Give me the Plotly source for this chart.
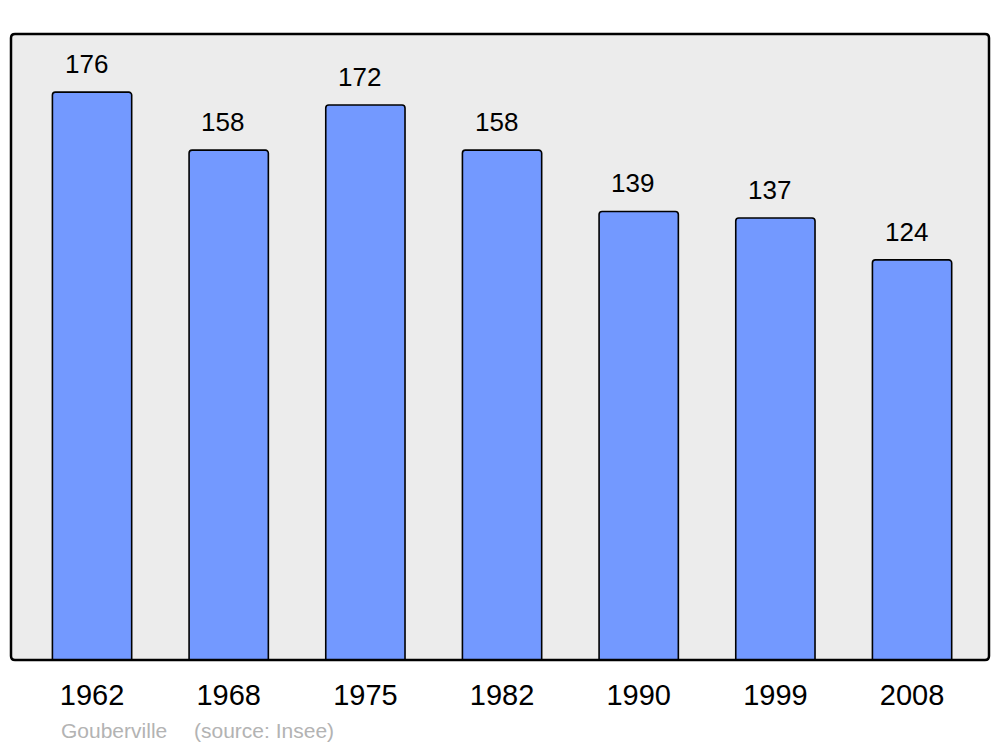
import plotly.graph_objects as go

years = ["1962", "1968", "1975", "1982", "1990", "1999", "2008"]
population = [176, 158, 172, 158, 139, 137, 124]
commune = "Gouberville"
source = "(source: Insee)"

# page body has an 8px margin, so the figure is drawn from (8, 8)
OFF = 8
W, H = 1000 - OFF, 747 - OFF
L, R, T, B = 11 - OFF, 11, 34 - OFF, 87
pw, ph = W - L - R, H - T - B

xs = list(range(len(years)))

fig = go.Figure()
fig.add_trace(go.Bar(
    x=xs, y=population, width=0.58,
    marker=dict(color="#7399ff", line=dict(color="#000000", width=1.6), cornerradius=3),
    hoverinfo="skip",
))

for i, v in zip(xs, population):
    fig.add_annotation(x=i, y=v, text=str(v), showarrow=False, yanchor="bottom",
                       yshift=11, xshift=-6,
                       font=dict(family="Liberation Sans, Arial", size=26, color="#000000"))

# rounded border of the plot area
rx, ry = 4 / pw, 4 / ph
path = (f"M {rx},0 L {1-rx},0 Q 1,0 1,{ry} L 1,{1-ry} Q 1,1 {1-rx},1 "
        f"L {rx},1 Q 0,1 0,{1-ry} L 0,{ry} Q 0,0 {rx},0 Z")
fig.add_shape(type="path", path=path, xref="paper", yref="paper",
              line=dict(color="#000000", width=2.5), layer="above")

ysrc = (660 - 730) / ph
fig.add_annotation(x=(59 - 11) / pw, y=ysrc, xref="paper", yref="paper",
                   text=commune, showarrow=False, xanchor="left", yanchor="middle",
                   font=dict(family="Liberation Sans, Arial", size=21, color="#b3b3b3"))
fig.add_annotation(x=(192 - 11) / pw, y=ysrc, xref="paper", yref="paper",
                   text=source, showarrow=False, xanchor="left", yanchor="middle",
                   font=dict(family="Liberation Sans, Arial", size=21, color="#b3b3b3"))

fig.update_layout(
    width=W, height=H,
    margin=dict(l=L, r=R, t=T, b=B),
    paper_bgcolor="#ffffff", plot_bgcolor="#ececec",
    showlegend=False,
    xaxis=dict(range=[-0.593, 6.563], tickmode="array", tickvals=xs, ticktext=years,
               showgrid=False, zeroline=False, ticks="", ticklabelstandoff=15,
               tickfont=dict(family="Liberation Sans, Arial", size=29, color="#000000"),
               fixedrange=True),
    yaxis=dict(range=[0, 194], showgrid=False, zeroline=False, showticklabels=False,
               ticks="", fixedrange=True),
)

fig.write_html("out.html")
